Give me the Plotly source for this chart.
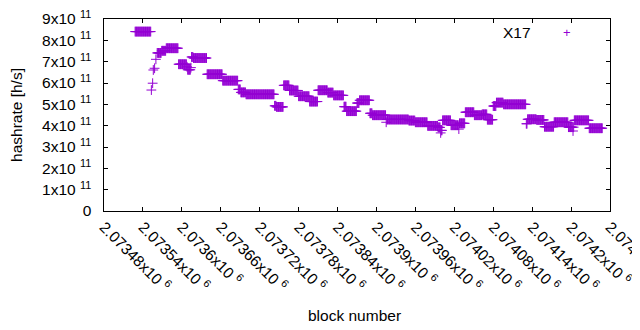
import numpy as np
import plotly.graph_objects as go

# runs of consecutive blocks sharing one hashrate value
run_first = [2073528, 2073553, 2073555, 2073556, 2073558, 2073560, 2073562, 2073569, 2073576,
             2073595, 2073608, 2073609, 2073614, 2073615, 2073618, 2073639, 2073663, 2073687,
             2073691, 2073699, 2073743, 2073746, 2073757, 2073766, 2073780, 2073797, 2073810,
             2073825, 2073834, 2073850, 2073854, 2073870, 2073874, 2073890, 2073894, 2073915,
             2073916, 2073950, 2073960, 2073979, 2073995, 2073999, 2074000, 2074002, 2074015,
             2074027, 2074028, 2074037, 2074051, 2074063, 2074071, 2074080, 2074085, 2074096,
             2074131, 2074133, 2074147, 2074159, 2074174, 2074196, 2074203, 2074204, 2074205,
             2074228]
run_last = [2073552, 2073553, 2073555, 2073556, 2073558, 2073560, 2073568, 2073575, 2073594,
            2073607, 2073608, 2073613, 2073614, 2073617, 2073638, 2073662, 2073686, 2073690,
            2073698, 2073742, 2073745, 2073756, 2073765, 2073779, 2073796, 2073809, 2073824,
            2073833, 2073849, 2073853, 2073869, 2073873, 2073889, 2073893, 2073914, 2073915,
            2073949, 2073959, 2073978, 2073994, 2073998, 2073999, 2074001, 2074014, 2074026,
            2074027, 2074036, 2074050, 2074062, 2074070, 2074079, 2074084, 2074095, 2074130,
            2074132, 2074146, 2074158, 2074173, 2074195, 2074202, 2074203, 2074204, 2074227,
            2074248]
run_hashrate = [8.41e11, 5.67e11, 5.99e11, 6.61e11, 6.69e11, 7.11e11, 7.41e11, 7.51e11, 7.63e11,
                6.88e11, 6.76e11, 6.62e11, 6.72e11, 7.22e11, 7.17e11, 6.41e11, 6.11e11, 5.70e11,
                5.56e11, 5.47e11, 4.93e11, 4.88e11, 5.89e11, 5.65e11, 5.38e11, 5.13e11, 5.66e11,
                5.55e11, 5.42e11, 4.89e11, 4.68e11, 5.06e11, 5.19e11, 4.58e11, 4.49e11, 4.16e11,
                4.29e11, 4.24e11, 4.16e11, 3.99e11, 3.92e11, 3.66e11, 3.78e11, 4.25e11, 4.02e11,
                3.84e11, 4.11e11, 4.63e11, 4.49e11, 4.53e11, 4.28e11, 4.92e11, 5.08e11, 5.00e11,
                4.09e11, 4.30e11, 4.27e11, 3.95e11, 4.16e11, 3.93e11, 3.75e11, 3.93e11, 4.25e11,
                3.88e11]

x_tick_vals = [2073480, 2073540, 2073600, 2073660, 2073720, 2073780, 2073840, 2073900,
               2073960, 2074020, 2074080, 2074140, 2074200, 2074260]
x_tick_text = ["2.07348x10 <sup>6</sup>", "2.07354x10 <sup>6</sup>", "2.0736x10 <sup>6</sup>",
               "2.07366x10 <sup>6</sup>", "2.07372x10 <sup>6</sup>", "2.07378x10 <sup>6</sup>",
               "2.07384x10 <sup>6</sup>", "2.0739x10 <sup>6</sup>", "2.07396x10 <sup>6</sup>",
               "2.07402x10 <sup>6</sup>", "2.07408x10 <sup>6</sup>", "2.07414x10 <sup>6</sup>",
               "2.0742x10 <sup>6</sup>", "2.07426x10 <sup>6</sup>"]
y_tick_vals = [0, 1e11, 2e11, 3e11, 4e11, 5e11, 6e11, 7e11, 8e11, 9e11]
y_tick_text = ["0", "1x10 <sup>11</sup>", "2x10 <sup>11</sup>", "3x10 <sup>11</sup>",
               "4x10 <sup>11</sup>", "5x10 <sup>11</sup>", "6x10 <sup>11</sup>",
               "7x10 <sup>11</sup>", "8x10 <sup>11</sup>", "9x10 <sup>11</sup>"]

blocks = []
rates = []
for a, b, v in zip(run_first, run_last, run_hashrate):
    for n in range(a, b + 1):
        blocks.append(n)
        rates.append(v)

PURPLE = "#9400d3"
FONT = "Liberation Sans, Arial, sans-serif"
FS = 15.5
PAD = "\u00a0\u00a0"  # keeps the y labels clear of the axis, as in the reference

fig = go.Figure()
fig.add_trace(go.Scatter(
    x=blocks, y=rates, mode="markers", name="X17", showlegend=False,
    marker=dict(symbol="cross-thin", size=7, color=PURPLE,
                line=dict(color=PURPLE, width=1)),
))

axis_common = dict(showline=True, linecolor="black", linewidth=1, mirror="ticks",
                   ticks="inside", ticklen=4, tickcolor="black", showgrid=False,
                   zeroline=False, automargin=False, ticklabeloverflow="allow",
                   tickfont=dict(family=FONT, size=FS, color="black"))

# the page body adds an 8px offset, so the figure is 632x322 with matching margins
fig.update_layout(
    width=632, height=322,
    margin=dict(l=96, r=30, t=11, b=119),
    paper_bgcolor="white", plot_bgcolor="white",
    font=dict(family=FONT, size=FS, color="black"),
    xaxis=dict(range=[x_tick_vals[0], x_tick_vals[-1]], tickvals=x_tick_vals,
               ticktext=x_tick_text, tickangle=45, **axis_common),
    yaxis=dict(range=[0, 9e11], tickvals=y_tick_vals,
               ticktext=[t + PAD for t in y_tick_text], **axis_common),
    annotations=[
        dict(text="hashrate [h/s]", xref="paper", yref="paper", x=-0.174, y=0.5,
             xanchor="center", yanchor="middle",
             textangle=-90, showarrow=False, font=dict(size=FS)),
        dict(text="block number", xref="paper", yref="paper", x=0.496, y=-0.542,
             xanchor="center", yanchor="middle", showarrow=False, font=dict(size=FS)),
        dict(text="X17", xref="paper", yref="paper", x=0.848, y=0.932,
             xanchor="right", yanchor="middle", showarrow=False, font=dict(size=FS)),
        dict(text="+", xref="paper", yref="paper", x=0.915, y=0.932,
             xanchor="center", yanchor="middle", showarrow=False,
             font=dict(size=13, color=PURPLE)),
    ],
)

fig.write_html("out.html")
